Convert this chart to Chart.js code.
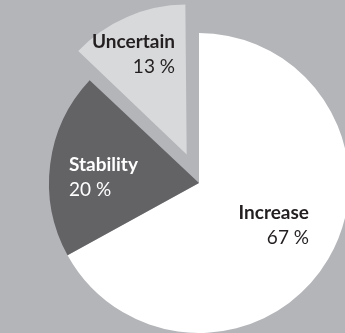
<!DOCTYPE html>
<html>
<head>
<meta charset="utf-8">
<script src="https://cdn.jsdelivr.net/npm/chart.js@4"></script>
<style>
  html, body { margin: 0; padding: 0; background: #b4b5b9; overflow: hidden; }
  #wrap { position: relative; width: 345px; height: 333px; }
</style>
</head>
<body>
<div id="wrap"><canvas id="pie" width="345" height="333"></canvas></div>
<script>
// --- data ---
const categories = ['Increase', 'Stability', 'Uncertain'];
const shares = [67, 20, 13];
const sliceColors = ['#ffffff', '#636366', '#d8d9db'];
const labelColors = ['#231f20', '#ffffff', '#231f20'];

// label placement relative to the pie centre (px), and alignment
const labelSpots = [
    { dx: 110, dy: 36, align: 'right' },
    { dx: -130, dy: -12, align: 'left' },
    { dx: -24, dy: -135, align: 'right' },
];

// Chart.js widens exploded slices a little; pull them back to the common radius
const keepRadius = {
    id: 'keepRadius',
    beforeDatasetsDraw(chart) {
        const meta = chart.getDatasetMeta(0);
        meta.data.forEach(arc => {
            const off = (arc.options.offset || 0) / 4;
            if (!off) return;
            const fix = 1 - Math.sin(Math.min(Math.PI, arc.circumference || 0));
            if (arc._baseR === undefined) arc._baseR = arc.outerRadius;
            arc.outerRadius = arc._baseR - off * fix;
        });
    }
};

const sliceLabels = {
    id: 'sliceLabels',
    afterDatasetsDraw(chart) {
        const ctx = chart.ctx;
        const meta = chart.getDatasetMeta(0);
        const base = meta.data[0];
        ctx.save();
        ctx.textBaseline = 'alphabetic';
        meta.data.forEach((arc, i) => {
            const spot = labelSpots[i];
            const x = base.x + spot.dx;
            const y = base.y + spot.dy;
            ctx.textAlign = spot.align;
            ctx.fillStyle = labelColors[i];
            ctx.font = 'bold 19px Lato';
            ctx.fillText(categories[i], x, y);
            ctx.font = '19px Lato';
            ctx.fillText(shares[i] + ' %', x, y + 25);
        });
        ctx.restore();
    }
};

new Chart(document.getElementById('pie'), {
    type: 'pie',
    data: {
        labels: categories,
        datasets: [{
            data: shares,
            backgroundColor: sliceColors,
            borderWidth: 0,
            offset: [0, 0, 124],
            hoverOffset: 0,
        }]
    },
    options: {
        responsive: false,
        animation: false,
        radius: 150,
        layout: { padding: { left: 53, right: 0, top: 33, bottom: 0 } },
        plugins: {
            legend: { display: false },
            tooltip: { enabled: false },
        },
        events: [],
    },
    plugins: [keepRadius, sliceLabels],
});
</script>
</body>
</html>
